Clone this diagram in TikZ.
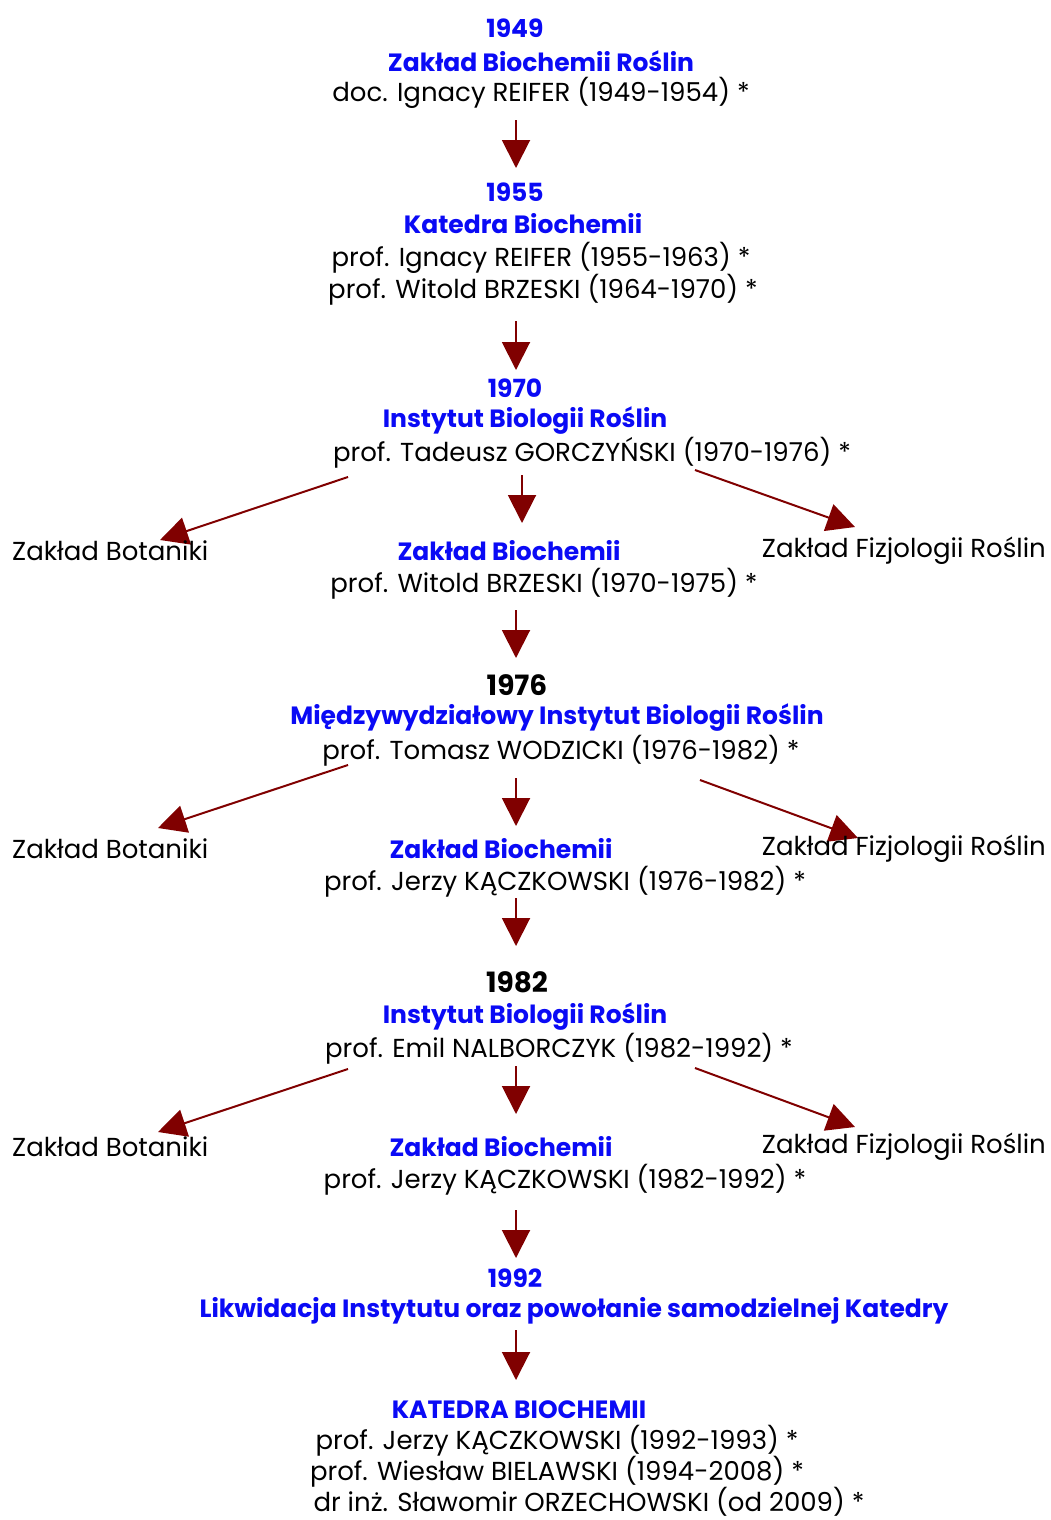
\documentclass[tikz,border=0pt]{standalone}
\usepackage{fontspec}
\setmainfont{Poppins}
\usetikzlibrary{arrows.meta}
\definecolor{hblue}{RGB}{10,10,245}
\definecolor{arr}{RGB}{128,0,0}
\begin{document}
\begin{tikzpicture}[x=1pt,y=-1pt,
  norm/.style={inner sep=0pt,font=\fontsize{26}{30}\selectfont,text=black},
  head/.style={inner sep=0pt,font=\fontsize{25}{30}\selectfont\bfseries,text=hblue},
  yearb/.style={inner sep=0pt,font=\fontsize{28}{30}\selectfont\bfseries,text=black},
  conn/.style={draw=arr,line width=2pt,-{Triangle[width=28pt,length=28pt]},fill=arr}]
\useasboundingbox (0,0) rectangle (1050,1520);
% block 1949
\node[head] (y49) at (515,28) {1949};
\node[head] (n49) at (541,61) {Zakład Biochemii Roślin};
\node[norm] (p49) at (541,93) {doc. Ignacy REIFER (1949-1954) *};
\coordinate (a1s) at (516,120); \coordinate (a1e) at (516,168);
\draw[conn] (a1s) -- (a1e);
% 1955
\node[head] (y55) at (515,192) {1955};
\node[head] (n55) at (523,224) {Katedra Biochemii};
\node[norm] (p55a) at (541,258) {prof. Ignacy REIFER (1955-1963) *};
\node[norm] (p55b) at (543,290) {prof. Witold BRZESKI (1964-1970) *};
\coordinate (a2s) at (516,321); \coordinate (a2e) at (516,370);
\draw[conn] (a2s) -- (a2e);
% 1970
\node[head] (y70) at (515,388) {1970};
\node[head] (n70) at (525,421) {Instytut Biologii Roślin};
\node[norm] (p70) at (592,453) {prof. Tadeusz GORCZYŃSKI (1970-1976) *};
\coordinate (b1s) at (348,477); \coordinate (b1e) at (160,540);
\coordinate (b2s) at (522,475); \coordinate (b2e) at (522,523);
\coordinate (b3s) at (695,470); \coordinate (b3e) at (855,527);
\draw[conn] (b1s) -- (b1e);
\draw[conn] (b2s) -- (b2e);
\draw[conn] (b3s) -- (b3e);
\node[norm,anchor=west] (bot1) at (12,551) {Zakład Botaniki};
\node[head] (bio1) at (509,551) {Zakład Biochemii};
\node[norm,anchor=east] (fiz1) at (1046,551) {Zakład Fizjologii Roślin};
\node[norm] (p70b) at (544,584) {prof. Witold BRZESKI (1970-1975) *};
\coordinate (a3s) at (516,610); \coordinate (a3e) at (516,658);
\draw[conn] (a3s) -- (a3e);
% 1976
\node[yearb] (y76) at (517,685) {1976};
\node[head] (n76) at (557,718) {Międzywydziałowy Instytut Biologii Roślin};
\node[norm] (p76) at (561,751) {prof. Tomasz WODZICKI (1976-1982) *};
\coordinate (c1s) at (348,765); \coordinate (c1e) at (158,828);
\coordinate (c2s) at (516,778); \coordinate (c2e) at (516,826);
\coordinate (c3s) at (700,780); \coordinate (c3e) at (858,838);
\draw[conn] (c1s) -- (c1e);
\draw[conn] (c2s) -- (c2e);
\draw[conn] (c3s) -- (c3e);
\node[norm,anchor=west] (bot2) at (12,849) {Zakład Botaniki};
\node[head] (bio2) at (501,849) {Zakład Biochemii};
\node[norm,anchor=east] (fiz2) at (1046,849) {Zakład Fizjologii Roślin};
\node[norm] (p76b) at (565,882) {prof. Jerzy KĄCZKOWSKI (1976-1982) *};
\coordinate (a4s) at (516,898); \coordinate (a4e) at (516,946);
\draw[conn] (a4s) -- (a4e);
% 1982
\node[yearb] (y82) at (517,982) {1982};
\node[head] (n82) at (525,1016) {Instytut Biologii Roślin};
\node[norm] (p82) at (559,1049) {prof. Emil NALBORCZYK (1982-1992) *};
\coordinate (d1s) at (348,1069); \coordinate (d1e) at (158,1132);
\coordinate (d2s) at (516,1066); \coordinate (d2e) at (516,1114);
\coordinate (d3s) at (695,1068); \coordinate (d3e) at (855,1127);
\draw[conn] (d1s) -- (d1e);
\draw[conn] (d2s) -- (d2e);
\draw[conn] (d3s) -- (d3e);
\node[norm,anchor=west] (bot3) at (12,1147) {Zakład Botaniki};
\node[head] (bio3) at (501,1147) {Zakład Biochemii};
\node[norm,anchor=east] (fiz3) at (1046,1147) {Zakład Fizjologii Roślin};
\node[norm] (p82b) at (565,1180) {prof. Jerzy KĄCZKOWSKI (1982-1992) *};
\coordinate (a5s) at (516,1210); \coordinate (a5e) at (516,1258);
\draw[conn] (a5s) -- (a5e);
% 1992
\node[head] (y92) at (515,1278) {1992};
\node[head] (n92) at (574,1311) {Likwidacja Instytutu oraz powołanie samodzielnej Katedry};
\coordinate (a6s) at (516,1330); \coordinate (a6e) at (516,1380);
\draw[conn] (a6s) -- (a6e);
\node[head] (kb) at (519,1410) {KATEDRA BIOCHEMII};
\node[norm] (k1) at (557,1441) {prof. Jerzy KĄCZKOWSKI (1992-1993) *};
\node[norm] (k2) at (557,1472) {prof. Wiesław BIELAWSKI (1994-2008) *};
\node[norm] (k3) at (589,1502) {dr inż. Sławomir ORZECHOWSKI (od 2009) *};
\end{tikzpicture}
\end{document}
